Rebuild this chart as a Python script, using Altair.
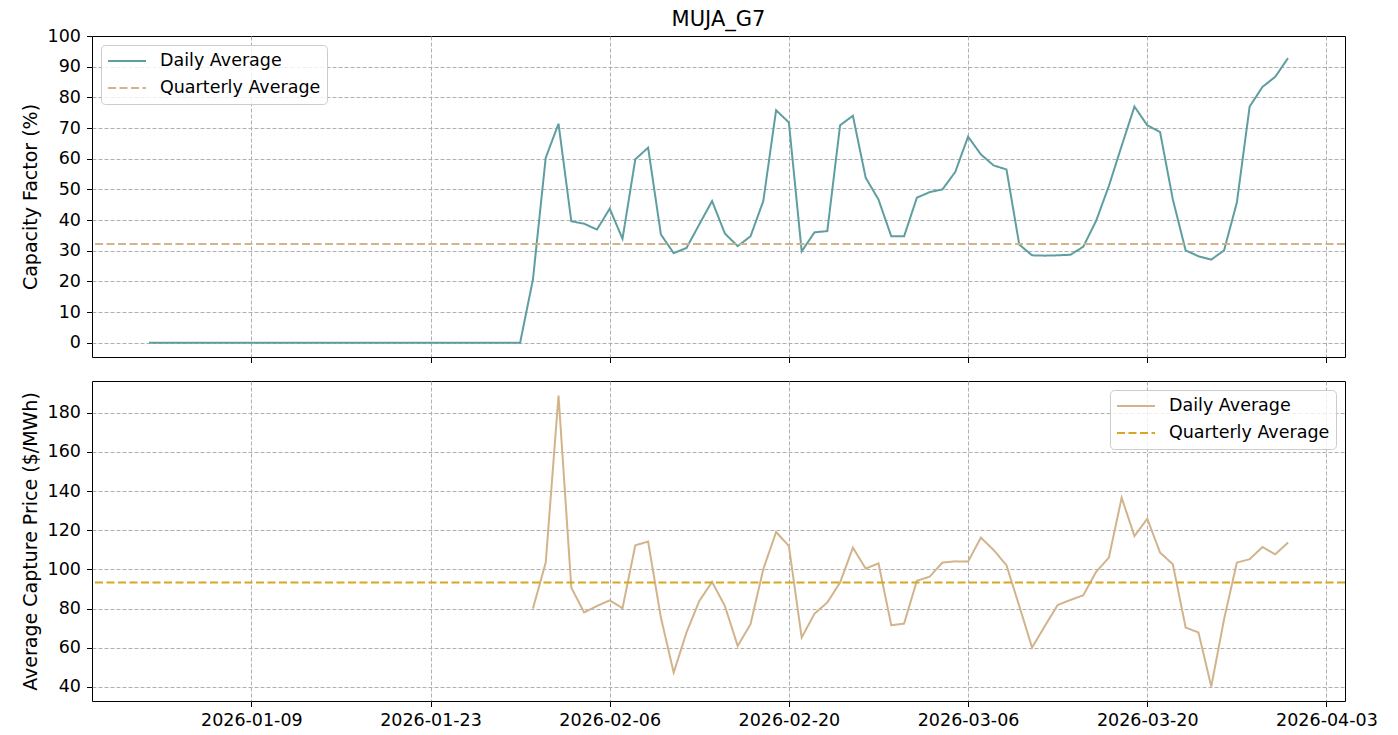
import altair as alt
import pandas as pd

# ---- data ----
dates = pd.date_range("2026-01-01", "2026-03-31", freq="D").strftime("%Y-%m-%dT00:00:00").tolist()

cf_daily = [0.0] * 30 + [
    20.6,                                                       # Jan 31
    60.3, 71.4, 39.6, 38.8, 36.9, 43.7, 33.9, 59.8, 63.6, 35.3,  # Feb 1-10
    29.2, 30.9, 38.6, 46.2, 35.6, 31.5, 34.7, 46.2, 75.8, 71.8,  # Feb 11-20
    29.8, 36.0, 36.4, 70.9, 74.0, 53.8, 46.7, 34.7,              # Feb 21-28
    34.7, 47.3, 49.1, 50.0, 55.7, 67.2, 61.4, 57.8, 56.5, 32.0,  # Mar 1-10
    28.5, 28.4, 28.5, 28.7, 31.3, 39.7, 51.1, 64.2, 77.0, 70.9,  # Mar 11-20
    68.7, 46.7, 30.1, 28.2, 27.1, 30.1, 45.7, 77.0, 83.4, 86.7, 92.8,  # Mar 21-31
]
cf_quarterly = [32.2]

price_daily = [None] * 30 + [
    80.0,
    103.5, 188.8, 90.7, 78.0, 81.3, 84.2, 80.2, 112.3, 114.2, 75.4,
    47.3, 67.8, 83.9, 93.6, 81.3, 60.9, 72.0, 100.1, 119.1, 111.9,
    65.2, 77.4, 83.1, 93.3, 111.1, 100.4, 103.1, 71.5,
    72.3, 94.2, 96.3, 103.5, 104.1, 104.0, 116.2, 109.9, 102.1, 81.3,
    60.1, 71.1, 81.8, 84.4, 86.8, 98.7, 106.0, 136.6, 117.0, 125.9,
    108.6, 102.6, 70.3, 67.8, 40.2, 74.5, 103.5, 105.2, 111.4, 107.7, 113.7,
]
price_quarterly = [93.3]

series_names = ["Daily Average", "Quarterly Average"]
cf_colors = ["#5f9ea0", "#d2b48c"]
price_colors = ["#d2b48c", "#daa520"]

cf_ticks = list(range(0, 101, 10))
price_ticks = list(range(40, 181, 20))
x_tick_dates = [(2026, 1, 9), (2026, 1, 23), (2026, 2, 6), (2026, 2, 20),
                (2026, 3, 6), (2026, 3, 20), (2026, 4, 3)]

# ---- tables ----
df_cf = pd.DataFrame({"date": dates, "value": cf_daily, "series": "Daily Average"})
df_cfq = pd.DataFrame({"value": cf_quarterly, "series": ["Quarterly Average"]})
df_pr = pd.DataFrame({"date": dates, "value": price_daily, "series": "Daily Average"}).dropna()
df_prq = pd.DataFrame({"value": price_quarterly, "series": ["Quarterly Average"]})

FONT = "DejaVu Sans"
W = 1253

x_scale = alt.Scale(domain=[alt.DateTime(year=2025, month=12, date=27, hours=13, minutes=12),
                            alt.DateTime(year=2026, month=4, date=4, hours=10, minutes=48)])
x_values = [alt.DateTime(year=y, month=m, date=d) for (y, m, d) in x_tick_dates]


def legend(orient):
    return alt.Legend(title=None, orient=orient, labelLimit=400)


def panel(df_line, df_rule, colors, ydomain, yticks, ytitle, show_x_labels, lorient):
    cscale = alt.Scale(domain=series_names, range=colors)
    dscale = alt.Scale(domain=series_names, range=[[1, 0], [8, 3.5]])
    yscale = alt.Scale(domain=ydomain, nice=False, zero=False)
    top_edge = ydomain[1]
    yaxis = alt.Axis(values=yticks, title=ytitle, titlePadding=7,
                     gridOpacity={"condition": {"test": f"datum.value >= {top_edge}", "value": 0},
                                  "value": 1})
    xaxis = alt.Axis(values=x_values, format="%Y-%m-%d", title=None, labels=show_x_labels)
    line = alt.Chart(df_line).mark_line(strokeWidth=2).encode(
        x=alt.X("date:T", scale=x_scale, axis=xaxis),
        y=alt.Y("value:Q", scale=yscale, axis=yaxis),
        color=alt.Color("series:N", scale=cscale, legend=legend(lorient)),
        strokeDash=alt.StrokeDash("series:N", scale=dscale, legend=legend(lorient)),
    )
    rule = alt.Chart(df_rule).mark_rule(strokeWidth=2).encode(
        y=alt.Y("value:Q", scale=yscale, axis=yaxis),
        color=alt.Color("series:N", scale=cscale, legend=legend(lorient)),
        strokeDash=alt.StrokeDash("series:N", scale=dscale, legend=legend(lorient)),
    )
    return alt.layer(line, rule)


top = panel(df_cf, df_cfq, cf_colors, [-4.64, 100], cf_ticks, "Capacity Factor (%)",
            False, "top-left").properties(
    width=W, height=321,
    title=alt.TitleParams("MUJA_G7", fontSize=21, font=FONT, fontWeight="normal",
                          color="black", anchor="middle", frame="group", offset=-3),
)
bottom = panel(df_pr, df_prq, price_colors, [32.8, 196.2], price_ticks,
               "Average Capture Price ($/MWh)", True, "top-right").properties(width=W, height=320)

chart = (
    alt.vconcat(top, bottom, spacing=16)
    .resolve_scale(y="independent", color="independent", strokeDash="independent")
    .resolve_legend(color="independent", strokeDash="independent")
    .properties(padding={"left": 12, "top": 0, "right": 5, "bottom": 0})
    .configure_axis(
        labelFont=FONT, titleFont=FONT, labelFontSize=17.5, titleFontSize=19,
        labelColor="black", titleColor="black", titleFontWeight="normal",
        tickColor="black", tickSize=5.5, tickWidth=1, domain=False,
        gridColor="#b0b0b0", gridDash=[4, 2], gridWidth=1, labelPadding=5,
    )
    .configure_axisY(labelPadding=6)
    .configure_view(stroke="black", strokeWidth=1)
    .configure_legend(
        labelFont=FONT, labelFontSize=17.5, labelColor="black",
        symbolType="stroke", symbolSize=1444, symbolStrokeWidth=2,
        clipHeight=20, rowPadding=7, labelOffset=13, padding=6,
        fillColor="rgba(255,255,255,0.8)", strokeColor="#cccccc", cornerRadius=4,
        offset=9,
    )
)

chart.save("out.html", embed_options={"renderer": "svg", "actions": False})
